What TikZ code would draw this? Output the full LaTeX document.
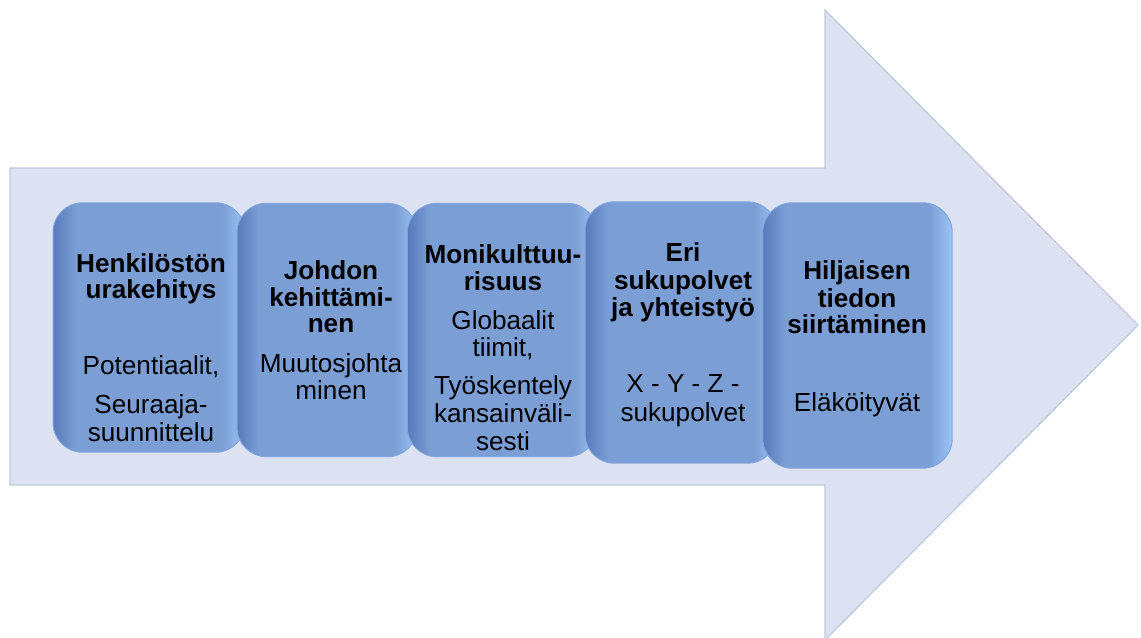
\documentclass[tikz,border=0pt]{standalone}
\usepackage{fontspec}
\setmainfont{Liberation Sans}
\definecolor{arrowfill}{RGB}{220,226,242}
\definecolor{arrowline}{RGB}{196,202,220}
\definecolor{boxdark}{RGB}{88,122,186}
\definecolor{boxmid}{RGB}{123,158,212}
\definecolor{boxlight}{RGB}{156,196,246}
\definecolor{boxline}{RGB}{130,166,222}
\pgfdeclarehorizontalshading{boxshade}{100bp}{color(0bp)=(boxdark); color(25bp)=(boxdark); color(31bp)=(boxmid); color(69bp)=(boxmid); color(75bp)=(boxlight); color(100bp)=(boxlight)}
\tikzset{every picture/.style={line width=0.75pt},
  bigarrow/.style={fill=arrowfill, draw=arrowline, line width=1pt},
  box/.style={shading=boxshade, draw=boxline, rounded corners=22pt, inner sep=0pt},
  head/.style={inner sep=0pt, anchor=base, font=\fontsize{19.6}{21}\selectfont\bfseries},
  body/.style={inner sep=0pt, anchor=base, font=\fontsize{19.6}{21}\selectfont}}

\begin{document}
\begin{tikzpicture}[x=0.75pt,y=0.75pt,yscale=-1,xscale=1]
\useasboundingbox (0,0) rectangle (1141,637);

%Shape: Big arrow
\draw [bigarrow] (10,168) -- (825,168) -- (825,10) -- (1138,325) -- (825,640) -- (825,485) -- (10,485) -- cycle ;

%Shape: Rounded boxes
\node [box, minimum width=144pt, minimum height=187pt] (b1) at (149,327.5) {};
\node [box, minimum width=135pt, minimum height=190pt] (b2) at (327,330) {};
\node [box, minimum width=142pt, minimum height=190pt] (b3) at (502,330) {};
\node [box, minimum width=144pt, minimum height=196pt] (b4) at (681,332.5) {};
\node [box, minimum width=142pt, minimum height=199pt] (b5) at (857.5,335.5) {};

% Text Node
\node [head] (h1a) at (151,272) {Henkilöstön};
\node [head] (h1b) at (151,298.5) {urakehitys};
\node [body] (p1a) at (151,374) {Potentiaalit,};
\node [body] (p1b) at (151,413) {Seuraaja-};
\node [body] (p1c) at (151,441.5) {suunnittelu};
% Text Node
\node [head] (h2a) at (331,279.5) {Johdon};
\node [head] (h2b) at (331,306) {kehittämi-};
\node [head] (h2c) at (331,332.5) {nen};
\node [body] (p2a) at (331,372.5) {Muutosjohta};
\node [body] (p2b) at (331,399.5) {minen};
% Text Node
\node [head] (h3a) at (503,263.5) {Monikulttuu-};
\node [head] (h3b) at (503,290.5) {risuus};
\node [body] (p3a) at (503,329.5) {Globaalit};
\node [body] (p3b) at (503,356.5) {tiimit,};
\node [body] (p3c) at (503,394) {Työskentely};
\node [body] (p3d) at (503,422) {kansainväli-};
\node [body] (p3e) at (503,450) {sesti};
% Text Node
\node [head] (h4a) at (683,261) {Eri};
\node [head] (h4b) at (683,289) {sukupolvet};
\node [head] (h4c) at (683,316.5) {ja yhteistyö};
\node [body] (p4a) at (683,392.5) {X - Y - Z -};
\node [body] (p4b) at (683,421) {sukupolvet};
% Text Node
\node [head] (h5a) at (857,279.5) {Hiljaisen};
\node [head] (h5b) at (857,307) {tiedon};
\node [head] (h5c) at (857,333.5) {siirtäminen};
\node [body] (p5a) at (857,411.5) {Eläköityvät};

\end{tikzpicture}
\end{document}
